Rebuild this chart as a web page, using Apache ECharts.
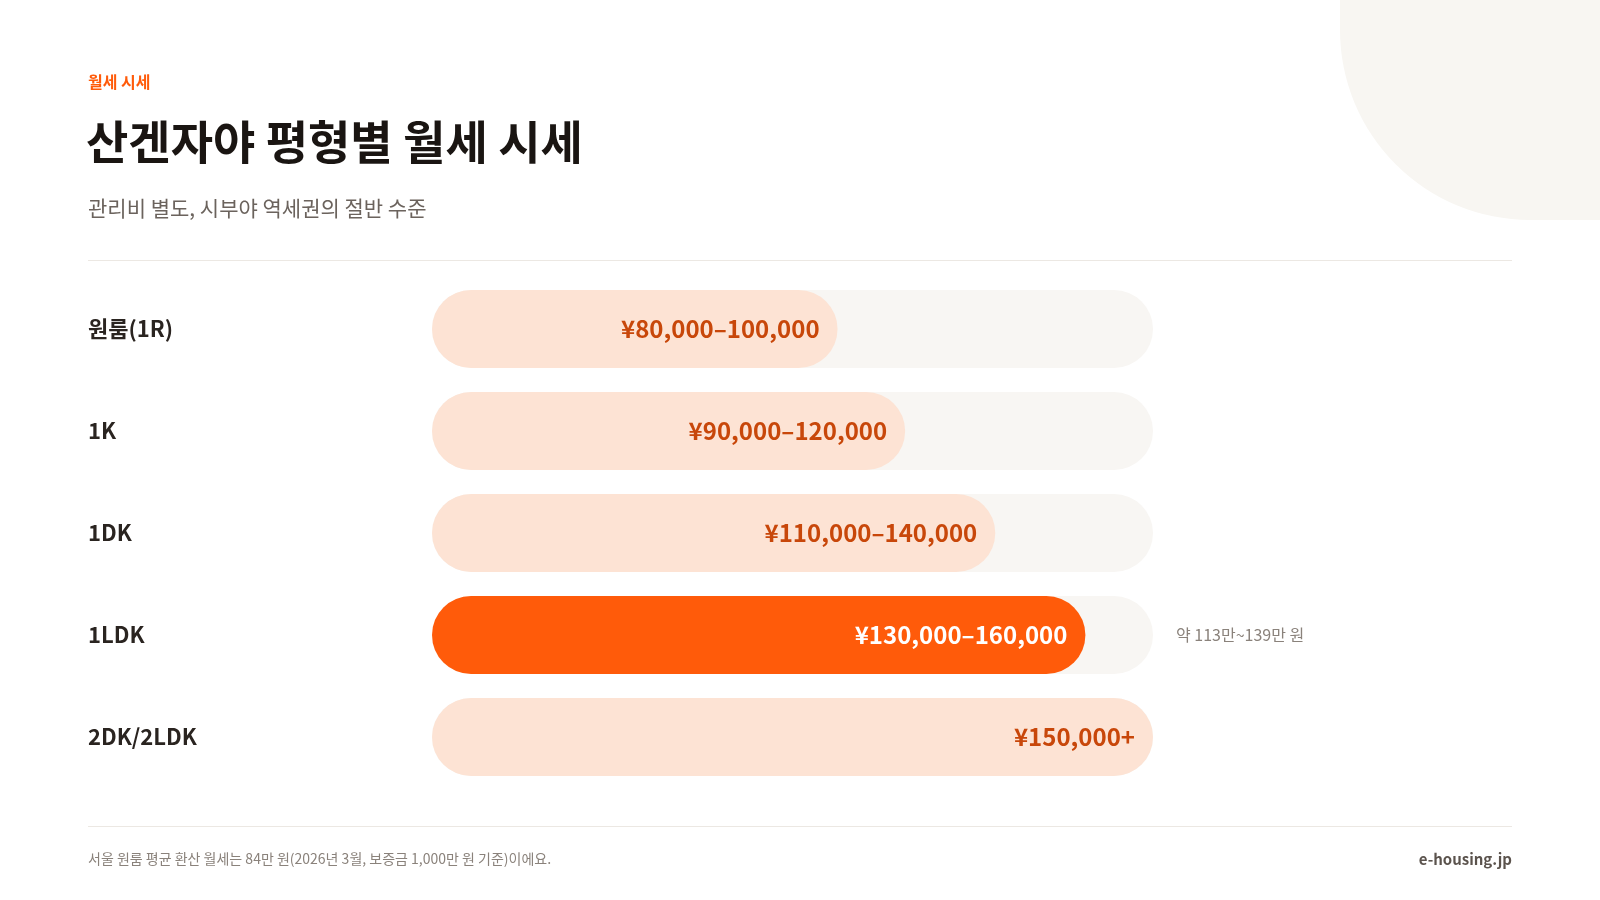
<!DOCTYPE html>
<html><head><meta charset="utf-8">
<script src="https://cdn.jsdelivr.net/npm/echarts@6/dist/echarts.min.js"></script>
<style>html,body{margin:0;padding:0;background:#fff}#c{width:1600px;height:900px}</style>
</head><body><div id="c"></div>
<script>
// Data
const categories = ['원룸(1R)', '1K', '1DK', '1LDK', '2DK/2LDK'];
const rangeLabels = ['¥80,000–100,000', '¥90,000–120,000', '¥110,000–140,000', '¥130,000–160,000', '¥150,000+'];
const barValues = [90000, 105000, 125000, 145000, 160000]; // bar length (yen) as drawn
const scaleMax = 160000;
const highlightIndex = 3;
const noteText = '약 113만~139만 원';
const eyebrow = '월세 시세';
const titleText = '산겐자야 평형별 월세 시세';
const subtitleText = '관리비 별도, 시부야 역세권의 절반 수준';
const footerText = '서울 원룸 평균 환산 월세는 84만 원(2026년 3월, 보증금 1,000만 원 기준)이에요.';
const brandText = 'e-housing.jp';

const FONT = '"Noto Sans CJK KR", "Noto Sans", sans-serif';
const ORANGE = '#FF5B0A';
const LIGHT = '#FDE3D4';
const TRACK = '#F8F6F3';

const chart = echarts.init(document.getElementById('c'), null, {renderer: 'canvas'});

function txt(text, x, y, size, weight, color, align) {
  return {
    type: 'text', silent: true,
    style: {
      text: text, x: x, y: y,
      font: weight + ' ' + size + 'px ' + FONT,
      fill: color,
      textAlign: align || 'left', align: align || 'left',
      textVerticalAlign: 'middle', verticalAlign: 'middle'
    }
  };
}

const option = {
  backgroundColor: '#ffffff',
  animation: false,
  textStyle: {fontFamily: FONT},
  grid: {left: 432, right: 1600 - 1153, top: 278, height: 510, containLabel: false},
  xAxis: {type: 'value', min: 0, max: scaleMax, show: false},
  yAxis: {
    type: 'category', data: categories, inverse: true,
    axisLine: {show: false}, axisTick: {show: false}, splitLine: {show: false},
    axisLabel: {
      margin: 432 - 88, align: 'left',
      fontFamily: FONT, fontSize: 22, fontWeight: 'bold', color: '#2A2420'
    }
  },
  graphic: [
    {type: 'rect', silent: true, z: -10, shape: {x: 1340, y: -300, width: 600, height: 520, r: 190}, style: {fill: '#F8F6F2'}},
    txt(eyebrow, 88, 82, 16, 'bold', ORANGE, 'left'),
    txt(titleText, 86, 142, 46, 'bold', '#1A1512', 'left'),
    txt(subtitleText, 88, 208, 21, 'normal', '#6B635D', 'left'),
    {type: 'line', silent: true, shape: {x1: 88, y1: 260.5, x2: 1512, y2: 260.5}, style: {stroke: '#ECE8E3', lineWidth: 1}},
    {type: 'line', silent: true, shape: {x1: 88, y1: 826.5, x2: 1512, y2: 826.5}, style: {stroke: '#ECE8E3', lineWidth: 1}},
    txt(footerText, 88, 859, 14, 'normal', '#8A827B', 'left'),
    txt(brandText, 1512, 859, 15, 'bold', '#5B534D', 'right')
  ],
  series: [
    {
      type: 'bar', barWidth: 78, barGap: '-100%', z: 1, silent: true,
      data: categories.map((c, i) => ({
        value: scaleMax,
        label: i === highlightIndex ? {
          show: true, position: 'right', distance: 23,
          formatter: noteText, fontFamily: FONT, fontSize: 16, color: '#8A827B'
        } : {show: false}
      })),
      itemStyle: {color: TRACK, borderRadius: 39}
    },
    {
      type: 'bar', barWidth: 78, barGap: '-100%', z: 2, silent: true,
      data: barValues.map((v, i) => ({
        value: v,
        itemStyle: {color: i === highlightIndex ? ORANGE : LIGHT, borderRadius: 39},
        label: {
          show: true, position: 'insideRight', distance: 18,
          formatter: rangeLabels[i],
          fontFamily: FONT, fontSize: 24, fontWeight: 'bold',
          color: i === highlightIndex ? '#FFFFFF' : '#C8470A'
        }
      }))
    }
  ]
};
chart.setOption(option);
</script>
</body></html>
